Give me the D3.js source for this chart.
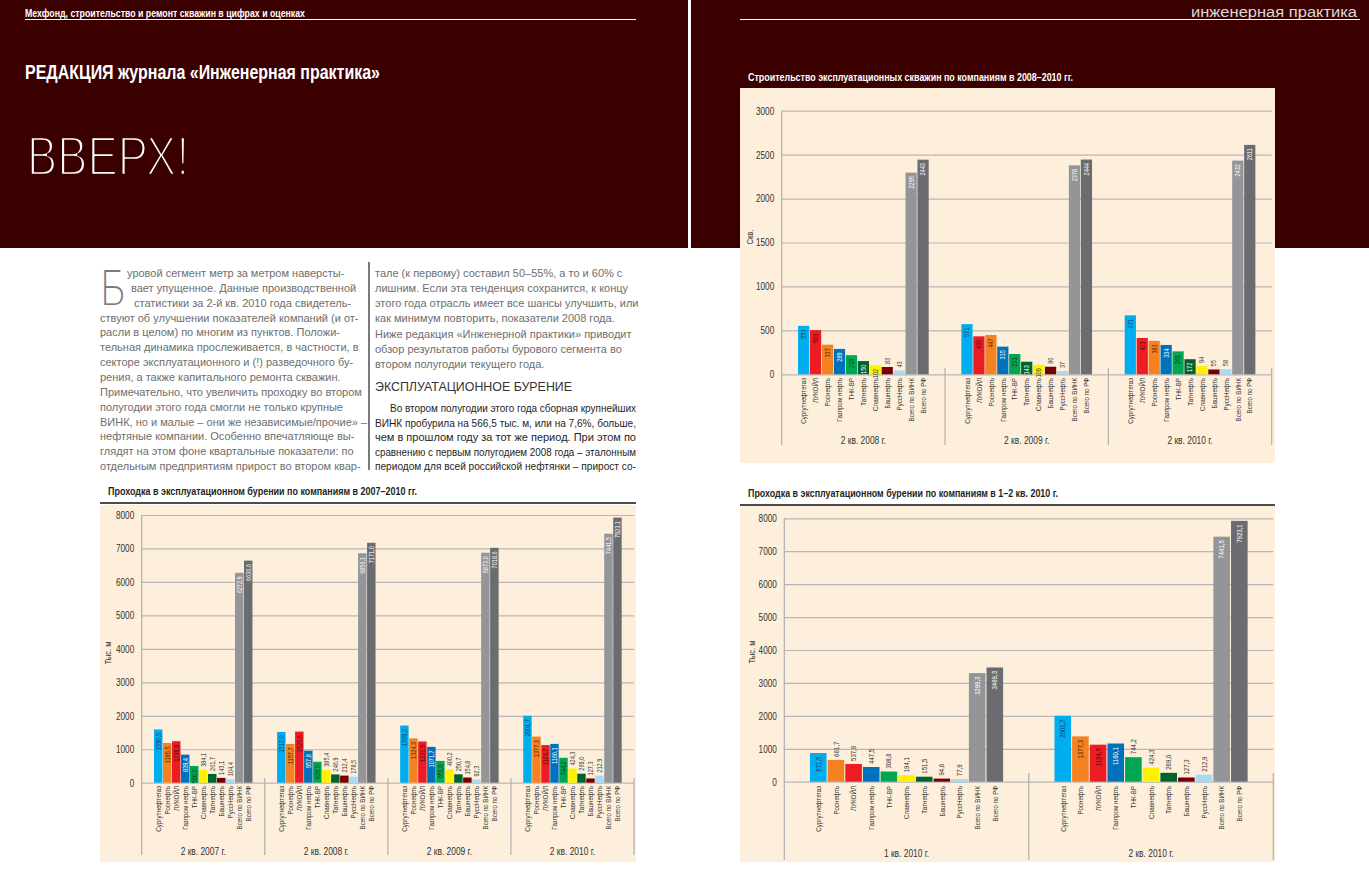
<!DOCTYPE html>
<html><head><meta charset="utf-8">
<script src="https://cdn.jsdelivr.net/npm/d3@7"></script>
<style>html,body{margin:0;padding:0;background:#fff;}svg{display:block}</style>
</head><body>
<svg id="page" width="1369" height="872"></svg>
<script>
// ---------------- DATA ----------------
const wellsCompanies = ["Сургутнефтегаз","ЛУКОЙЛ","Роснефть","Газпром нефть","ТНК-ВР","Татнефть","Славнефть","Башнефть","РуссНефть","Всего по ВИНК","Всего по РФ"];
const wellsPeriods = ["2 кв. 2008 г.","2 кв. 2009 г.","2 кв. 2010 г."];
const wells2008 = [551,503,337,289,218,150,102,83,43,2295,2443];
const wells2009 = [571,432,447,315,231,143,109,86,37,2378,2444];
const wells2010 = [671,413,381,334,261,172,94,55,58,2432,2611];
const wellsTicks = [0,500,1000,1500,2000,2500,3000];

const drillCompanies = ["Сургутнефтегаз","Роснефть","ЛУКОЙЛ","Газпром нефть","ТНК-ВР","Славнефть","Татнефть","Башнефть","РуссНефть","Всего по ВИНК","Всего по РФ"];
const drillPeriods = ["2 кв. 2007 г.","2 кв. 2008 г.","2 кв. 2009 г.","2 кв. 2010 г."];
const drill2007 = [1590.9,1186.5,1239.9,839.4,500.0,384.1,261.7,143.1,104.4,6272.9,6636.6];
const drill2008 = [1517.0,1157.7,1526.6,957.8,626.0,385.4,246.9,212.4,178.5,6856.1,7171.0];
const drill2009 = [1709.2,1324.3,1231.9,1071.7,651.0,400.2,250.7,154.8,92.3,6873.0,7018.6];
const drill2010 = [2001.7,1377.3,1124.7,1160.1,744.2,424.3,269.0,127.3,212.9,7441.5,7923.1];
const drillTicks = [0,1000,2000,3000,4000,5000,6000,7000,8000];

const quarterPeriods = ["1 кв. 2010 г.","2 кв. 2010 г."];
const q1of2010 = [871.5,661.7,537.9,447.5,308.6,194.1,151.5,94.6,77.9,3299.3,3469.3];
const q2of2010 = [2001.7,1377.3,1124.7,1160.1,744.2,424.3,269.0,127.3,212.9,7441.5,7923.1];

const companyColors = {
  "Сургутнефтегаз":"#00aeef","ЛУКОЙЛ":"#ed1c24","Роснефть":"#f58220","Газпром нефть":"#0071bc",
  "ТНК-ВР":"#00a651","Татнефть":"#00632e","Славнефть":"#fff200","Башнефть":"#760000",
  "РуссНефть":"#a3dcf6","Всего по ВИНК":"#949599","Всего по РФ":"#6b6c70"};
const labelColors = {
  "Сургутнефтегаз":"#0d3b66","ЛУКОЙЛ":"#4a0a0a","Роснефть":"#4a2500","Газпром нефть":"#ffffff",
  "ТНК-ВР":"#063a1a","Татнефть":"#ffffff","Славнефть":"#333333","Башнефть":"#ffffff",
  "РуссНефть":"#333333","Всего по ВИНК":"#ffffff","Всего по РФ":"#ffffff"};

const headerLeft = "Мехфонд, строительство и ремонт скважин в цифрах и оценках";
const headerRight = "инженерная практика";
const authorLine = "РЕДАКЦИЯ журнала «Инженерная практика»";
const headline = "ВВЕРХ!";
const titleWells = "Строительство эксплуатационных скважин по компаниям в 2008–2010 гг.";
const titleDrill = "Проходка в эксплуатационном бурении по компаниям в 2007–2010 гг.";
const titleQuarter = "Проходка в эксплуатационном бурении по компаниям в 1–2 кв. 2010 г.";

const dropCap = "Б";
const leftLines = [
 "уровой сегмент метр за метром наверсты-",
 "вает упущенное. Данные производственной",
 "статистики за 2-й кв. 2010 года свидетель-",
 "ствуют об улучшении показателей компаний (и от-",
 "расли в целом) по многим из пунктов. Положи-",
 "тельная динамика прослеживается, в частности, в",
 "секторе эксплуатационного и (!) разведочного бу-",
 "рения, а также капитального ремонта скважин.",
 "Примечательно, что увеличить проходку во втором",
 "полугодии этого года смогли не только крупные",
 "ВИНК, но и малые – они же независимые/прочие» –",
 "нефтяные компании. Особенно впечатляюще вы-",
 "глядят на этом фоне квартальные показатели: по",
 "отдельным предприятиям прирост во втором квар-"];
const rightLines = [
 "тале (к первому) составил 50–55%, а то и 60% с",
 "лишним. Если эта тенденция сохранится, к концу",
 "этого года отрасль имеет все шансы улучшить, или",
 "как минимум повторить, показатели 2008 года.",
 "Ниже редакция «Инженерной практики» приводит",
 "обзор результатов работы бурового сегмента во",
 "втором полугодии текущего года."];
const sectionHeading = "ЭКСПЛУАТАЦИОННОЕ БУРЕНИЕ";
const darkLines = [
 "Во втором полугодии этого года сборная крупнейших",
 "ВИНК пробурила на 566,5 тыс. м, или на 7,6%, больше,",
 "чем в прошлом году за тот же период. При этом по",
 "сравнению с первым полугодием 2008 года – эталонным",
 "периодом для всей российской нефтянки – прирост со-"];

// ---------------- DRAW ----------------
const SANS = "'Liberation Sans',Arial,sans-serif";
const MAROON = "#3a0000";
const BEIGE = "#fdefdb";
const svg = d3.select("#page");

function condense(sel, f){
  sel.each(function(){
    const L = this.getComputedTextLength();
    d3.select(this).attr("textLength", L*f).attr("lengthAdjust","spacingAndGlyphs");
  });
}
function fit(sel, w){ sel.attr("textLength", w).attr("lengthAdjust","spacingAndGlyphs"); }

// background bands
svg.append("rect").attr("x",0).attr("y",0).attr("width",688).attr("height",248).attr("fill",MAROON);
svg.append("rect").attr("x",691).attr("y",0).attr("width",678).attr("height",248).attr("fill",MAROON);

// headers
svg.append("text").attr("x",25).attr("y",16.5).attr("font-family",SANS).attr("font-weight","bold")
  .attr("font-size",10.5).attr("fill","#fff").text(headerLeft).call(fit,280);
svg.append("line").attr("x1",25).attr("x2",636).attr("y1",19.5).attr("y2",19.5).attr("stroke","#fff").attr("stroke-width",1);
svg.append("text").attr("x",1357).attr("y",16.5).attr("text-anchor","end").attr("font-family",SANS)
  .attr("font-size",15.5).attr("fill","#d9d9d9").text(headerRight).call(fit,166);
svg.append("line").attr("x1",740).attr("x2",1360).attr("y1",19.5).attr("y2",19.5).attr("stroke","#fff").attr("stroke-width",1);

svg.append("text").attr("x",25).attr("y",79).attr("font-family",SANS).attr("font-weight","bold")
  .attr("font-size",19.5).attr("fill","#fff").text(authorLine).call(fit,355);
svg.append("text").attr("x",27).attr("y",175).attr("font-family",SANS)
  .attr("font-size",55).attr("fill","#fff").attr("stroke",MAROON).attr("stroke-width",2.6).text(headline).call(fit,162);

// body text
svg.append("text").attr("x",100).attr("y",306).attr("font-family",SANS).attr("font-size",53)
  .attr("fill","#7a7a7a").attr("stroke","#fff").attr("stroke-width",2.2).text(dropCap).call(fit,26);
const leftX = [127,131,134];
leftLines.forEach((t,i)=>{
  svg.append("text").attr("x", i<3 ? leftX[i] : 100).attr("y",277+i*14.85)
    .attr("font-family",SANS).attr("font-size",11).attr("fill","#6e6e6e").text(t);
});
svg.append("line").attr("x1",369).attr("x2",369).attr("y1",262).attr("y2",470).attr("stroke","#222").attr("stroke-width",1.2);
rightLines.forEach((t,i)=>{
  svg.append("text").attr("x",375).attr("y",277+i*15.15)
    .attr("font-family",SANS).attr("font-size",11).attr("fill","#6e6e6e").text(t);
});
svg.append("text").attr("x",375).attr("y",391).attr("font-family",SANS).attr("font-size",12.3)
  .attr("fill","#333").text(sectionHeading).call(fit,197);
darkLines.forEach((t,i)=>{
  const x = i===0 ? 390 : 375;
  svg.append("text").attr("x",x).attr("y",412+i*14.5)
    .attr("font-family",SANS).attr("font-size",11.5).attr("fill","#1e1e1e").text(t).call(fit,636-x);
});

// generic grouped bar chart
function drawChart(cfg){
  const g = svg.append("g");
  g.append("rect").attr("x",cfg.panel[0]).attr("y",cfg.panel[1]).attr("width",cfg.panel[2]).attr("height",cfg.panel[3]).attr("fill",BEIGE);
  g.append("text").attr("x",cfg.titleX).attr("y",cfg.titleY).attr("font-family",SANS).attr("font-weight","bold")
    .attr("font-size",11).attr("fill",cfg.titleColor).text(cfg.title).call(fit,cfg.titleW);
  if(cfg.titleRule){
    g.append("line").attr("x1",cfg.panel[0]).attr("x2",cfg.panel[0]+cfg.panel[2]).attr("y1",cfg.titleRule).attr("y2",cfg.titleRule)
      .attr("stroke","#111").attr("stroke-width",1.4);
  }
  const y = d3.scaleLinear().domain([0,cfg.ticks[cfg.ticks.length-1]]).range([cfg.yZero,cfg.yTop]);
  const x0 = d3.scaleBand().domain(cfg.periods).range([cfg.axisX,cfg.rightX]);
  const W = x0.bandwidth();
  const x1 = d3.scaleBand().domain(cfg.companies).range([W*cfg.pad,W*(1-cfg.pad)]).paddingInner(0.06);

  const axis = d3.axisLeft(y).tickValues(cfg.ticks).tickSize(-(cfg.rightX-cfg.axisX)).tickPadding(7.5).tickFormat(d3.format("d"));
  const ga = g.append("g").attr("transform",`translate(${cfg.axisX},0)`).call(axis);
  ga.select(".domain").remove();
  ga.selectAll(".tick line").attr("stroke","#b7b7b7").attr("stroke-width",1.2);
  ga.selectAll(".tick text").attr("font-family",SANS).attr("font-size",10.5).attr("fill","#333").call(condense,0.78);

  g.append("line").attr("x1",cfg.axisX).attr("x2",cfg.axisX).attr("y1",cfg.yTop).attr("y2",cfg.bottom).attr("stroke","#b0b0b0").attr("stroke-width",1.2);
  g.append("text").attr("transform",`translate(${cfg.yLabelX},${cfg.yLabelY}) rotate(-90)`).attr("text-anchor","middle")
    .attr("dy","0.35em").attr("font-family",SANS).attr("font-size",9.5).attr("fill","#333").text(cfg.yLabel).call(condense,0.8);

  cfg.periods.forEach((p,pi)=>{
    const gx = x0(p);
    g.append("line").attr("x1",gx+W).attr("x2",gx+W).attr("y1",cfg.sepTop).attr("y2",cfg.bottom).attr("stroke","#b0b0b0").attr("stroke-width",1.2);
    g.append("text").attr("x",gx+W/2).attr("y",cfg.groupLabelY).attr("text-anchor","middle")
      .attr("font-family",SANS).attr("font-size",10.5).attr("fill","#333").text(p).call(condense,0.8);
    const vals = cfg.series[pi];
    const bars = g.append("g").selectAll("g").data(cfg.companies.map((c,ci)=>({c,v:vals[ci]}))).join("g");
    const inside = d => (cfg.yZero-y(d.v)) >= cfg.insideMin;
    bars.append("rect")
      .attr("x",d=>gx+x1(d.c)).attr("y",d=>y(d.v)).attr("width",x1.bandwidth())
      .attr("height",d=>cfg.yZero-y(d.v)).attr("fill",d=>companyColors[d.c]);
    bars.append("text")
      .attr("transform",d=>{
        const cx = gx+x1(d.c)+x1.bandwidth()/2;
        return inside(d) ? `translate(${cx},${y(d.v)+3.5}) rotate(-90)` : `translate(${cx},${y(d.v)-3}) rotate(-90)`;
      })
      .attr("text-anchor",d=>inside(d) ? "end":"start")
      .attr("dy","0.35em").attr("font-family",SANS).attr("font-size",cfg.valueFont)
      .attr("fill",d=>inside(d) ? labelColors[d.c] : "#333")
      .text(d=>cfg.fmt(d.v)).call(condense,0.82);
    bars.append("text")
      .attr("transform",d=>`translate(${gx+x1(d.c)+x1.bandwidth()/2},${cfg.catTop}) rotate(-90)`)
      .attr("text-anchor","end").attr("dy","0.35em").attr("font-family",SANS).attr("font-size",7.8)
      .attr("fill","#333").text(d=>d.c).call(condense,0.8);
  });
}
const fmtInt = d3.format("d");
const fmtDec = v => d3.format(".1f")(v).replace(".",",");

drawChart({panel:[740,88,535,375],title:titleWells,titleX:748,titleY:81,titleW:325,titleColor:"#fff",titleRule:null,
  periods:wellsPeriods,companies:wellsCompanies,series:[wells2008,wells2009,wells2010],ticks:wellsTicks,
  axisX:781.7,rightX:1271.7,yTop:110.7,yZero:374.3,bottom:445,sepTop:368,catTop:378,groupLabelY:444,
  yLabel:"Скв.",yLabelX:750,yLabelY:237,pad:0.1,insideMin:8.5,valueFont:6.8,fmt:fmtInt});

drawChart({panel:[100,505,536,357],title:titleDrill,titleX:108,titleY:495,titleW:309,titleColor:"#231f20",titleRule:503,
  periods:drillPeriods,companies:drillCompanies,series:[drill2007,drill2008,drill2009,drill2010],ticks:drillTicks,
  axisX:141.7,rightX:634,yTop:515,yZero:782.7,bottom:855,sepTop:778,catTop:786,groupLabelY:855,
  yLabel:"Тыс. м",yLabelX:107.5,yLabelY:653,pad:0.1,insideMin:15,valueFont:6.8,fmt:fmtDec});

drawChart({panel:[740,506,535,356],title:titleQuarter,titleX:748,titleY:497,titleW:310,titleColor:"#231f20",titleRule:505,
  periods:quarterPeriods,companies:drillCompanies,series:[q1of2010,q2of2010],ticks:drillTicks,
  axisX:784.3,rightX:1273.3,yTop:518.3,yZero:781.7,bottom:860,sepTop:773,catTop:786,groupLabelY:857,
  yLabel:"Тыс. м",yLabelX:752,yLabelY:652,pad:0.105,insideMin:25,valueFont:7.4,fmt:fmtDec});
</script>
</body></html>
